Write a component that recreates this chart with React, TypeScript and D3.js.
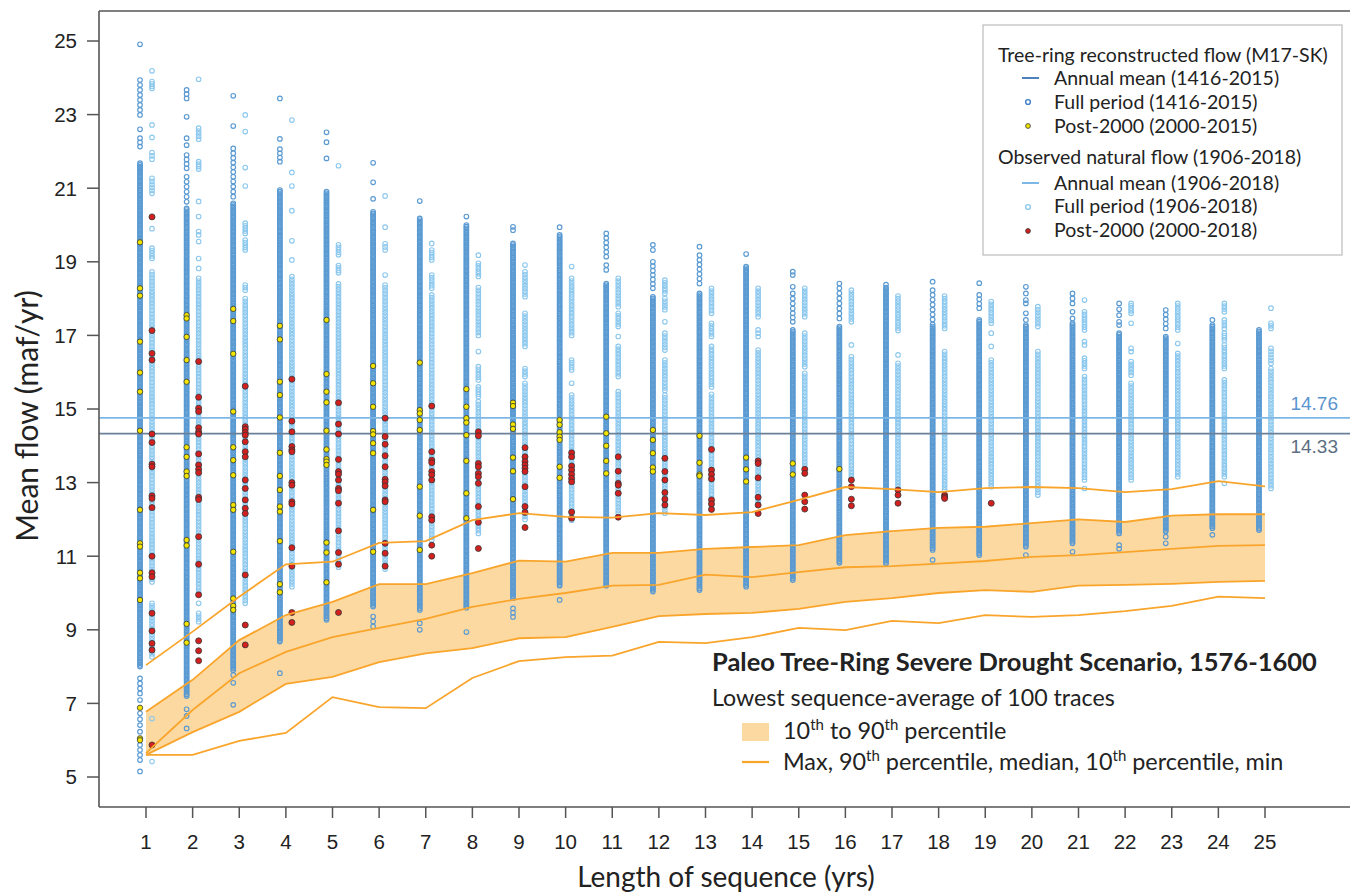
import React, { useEffect } from 'react';
import * as d3 from 'd3';

// ---------- DATA ----------
const lengths = [1, 2, 3, 4, 5, 6, 7, 8, 9, 10, 11, 12, 13, 14, 15, 16, 17, 18, 19, 20, 21, 22, 23, 24, 25];
const yTicks = [5, 7, 9, 11, 13, 15, 17, 19, 21, 23, 25];
const treeMean = 14.33;
const obsMean = 14.76;

// percentile lines of the drought scenario (lowest sequence-average of 100 traces)
const pMax = [8.04, 8.95, 9.9, 10.78, 10.85, 11.36, 11.41, 11.98, 12.17, 12.07, 12.05, 12.17, 12.12, 12.2, 12.53, 12.88, 12.82, 12.74, 12.85, 12.88, 12.85, 12.74, 12.82, 13.04, 12.9];
const p90 = [6.77, 7.64, 8.72, 9.4, 9.76, 10.24, 10.24, 10.54, 10.88, 10.85, 11.09, 11.09, 11.2, 11.25, 11.3, 11.57, 11.68, 11.77, 11.8, 11.9, 12.0, 11.93, 12.1, 12.14, 12.14];
const pMed = [5.65, 6.82, 7.82, 8.4, 8.8, 9.05, 9.3, 9.62, 9.84, 10.0, 10.2, 10.22, 10.5, 10.43, 10.57, 10.7, 10.73, 10.8, 10.87, 10.98, 11.03, 11.11, 11.2, 11.28, 11.3];
const p10 = [5.6, 6.22, 6.77, 7.53, 7.72, 8.12, 8.36, 8.5, 8.77, 8.8, 9.08, 9.37, 9.43, 9.46, 9.57, 9.76, 9.86, 10.0, 10.08, 10.03, 10.2, 10.22, 10.25, 10.3, 10.33];
const pMin = [5.6, 5.6, 5.98, 6.2, 7.17, 6.9, 6.87, 7.69, 8.15, 8.26, 8.3, 8.67, 8.64, 8.8, 9.05, 8.99, 9.24, 9.18, 9.4, 9.35, 9.4, 9.51, 9.65, 9.9, 9.86];

// tree-ring reconstruction: densely packed value ranges [high, low] per sequence length
const treeDense = [
  [21.68, 8.0], [20.45, 7.2], [20.59, 7.9], [20.95, 8.68], [20.91, 9.27], [20.36, 9.63], [20.18, 9.54],
  [20.0, 9.6], [19.5, 9.86], [19.73, 10.2], [18.41, 10.2], [18.05, 10.04], [18.14, 10.08], [18.87, 10.17],
  [17.15, 10.35], [17.24, 10.82], [18.3, 10.8], [17.24, 11.17], [17.42, 11.03], [17.28, 11.26], [17.33, 11.35],
  [17.06, 11.62], [16.97, 11.67], [17.28, 11.76], [17.15, 11.71],
];
// tree-ring reconstruction: sparse values / short runs [high, low]
const treeSparse = [
  [[24.91, 24.91], [23.94, 22.99], [22.6, 22.6], [22.36, 22.13], [7.68, 7.27], [7.09, 7.09], [6.73, 6.41], [6.23, 6.23], [5.87, 5.46], [5.15, 5.15]],
  [[23.67, 23.44], [22.94, 22.94], [22.36, 22.17], [21.9, 21.54], [21.31, 20.63], [6.84, 6.84], [6.66, 6.66], [6.32, 6.32]],
  [[23.51, 23.51], [22.69, 22.69], [22.08, 21.31], [21.18, 20.77], [7.77, 7.77], [7.56, 7.56], [6.96, 6.96]],
  [[23.44, 23.44], [22.34, 22.34], [22.06, 21.72], [7.82, 7.82]],
  [[22.52, 22.52], [22.25, 22.25], [21.81, 21.81]],
  [[21.69, 21.69], [21.16, 21.16], [20.71, 20.71], [9.36, 9.09]],
  [[20.65, 20.65], [9.18, 9.0]],
  [[20.23, 20.23], [8.94, 8.94]],
  [[19.95, 19.86], [9.58, 9.35]],
  [[19.94, 19.94], [9.81, 9.81]],
  [[19.77, 19.14], [18.91, 18.78]],
  [[19.46, 19.32], [19.0, 18.28]],
  [[19.41, 19.41], [19.18, 18.41]],
  [[19.21, 19.21]],
  [[18.73, 18.64], [18.32, 18.14], [18.0, 17.73], [17.6, 17.37]],
  [[18.41, 18.41], [18.28, 17.46]],
  [[18.38, 18.38]],
  [[18.46, 18.46], [18.23, 18.23], [18.1, 17.3], [10.9, 10.9]],
  [[18.42, 18.42], [18.1, 17.74]],
  [[18.32, 18.14], [17.96, 17.87], [17.6, 17.42], [11.03, 11.03]],
  [[18.14, 17.87], [17.64, 17.46], [11.12, 11.12]],
  [[17.87, 17.55], [17.37, 17.28], [11.3, 11.2]],
  [[17.69, 17.19], [11.53, 11.35]],
  [[17.42, 17.42], [11.58, 11.58]],
  [],
];
// observed natural flow: value runs [high, low] per sequence length
const obsRuns = [
  [[24.19, 24.19], [23.9, 23.71], [22.72, 22.72], [22.38, 22.38], [21.97, 21.79], [21.27, 20.86], [19.9, 19.9], [19.37, 19.09], [18.73, 10.3], [9.72, 8.27], [6.59, 6.59], [5.42, 5.42]],
  [[23.96, 23.96], [22.63, 22.33], [21.72, 21.52], [20.64, 20.64], [20.23, 20.23], [19.82, 19.73], [19.55, 19.55], [19.09, 19.09], [18.82, 18.82], [18.55, 10.0], [9.72, 9.72], [9.45, 9.22]],
  [[22.99, 22.99], [22.54, 22.54], [21.56, 21.56], [21.06, 21.06], [20.05, 19.77], [19.59, 19.32], [18.37, 18.23], [18.0, 9.72]],
  [[22.85, 22.85], [21.43, 21.43], [21.06, 21.06], [20.39, 20.39], [19.57, 19.57], [19.05, 19.05], [18.6, 10.17]],
  [[21.61, 21.61], [19.46, 19.19], [18.9, 18.7], [18.4, 10.7]],
  [[20.79, 20.79], [19.94, 19.94], [19.49, 19.32], [18.64, 18.64], [18.37, 10.65]],
  [[19.5, 19.5], [19.32, 19.05], [18.64, 18.28], [18.1, 11.44]],
  [[19.18, 19.18], [18.96, 18.6], [18.3, 17.0], [16.56, 16.56], [16.15, 15.79], [15.6, 15.33], [15.2, 11.62]],
  [[18.91, 18.91], [18.73, 18.05], [17.6, 16.7], [16.1, 15.88], [15.7, 12.0]],
  [[18.87, 18.87], [18.55, 17.0], [16.33, 16.06], [15.7, 15.7], [15.38, 11.98]],
  [[18.55, 17.78], [17.6, 17.24], [16.97, 16.97], [16.7, 15.88], [15.47, 12.17]],
  [[18.5, 18.14], [18.0, 17.7], [17.37, 17.37], [17.06, 16.6], [16.33, 15.5], [15.38, 12.17]],
  [[18.28, 17.6], [17.33, 16.97], [16.7, 15.6], [15.4, 12.3]],
  [[18.28, 17.51], [17.15, 16.97], [16.6, 12.4]],
  [[18.28, 17.51], [17.06, 16.15], [15.97, 13.43]],
  [[18.23, 17.37], [16.74, 16.74], [16.42, 13.16]],
  [[18.07, 17.13], [16.47, 16.47], [16.24, 12.89]],
  [[18.07, 17.19], [16.56, 12.8]],
  [[17.92, 17.33], [17.06, 17.06], [16.7, 16.7], [16.33, 12.89]],
  [[17.78, 17.24], [16.56, 12.66]],
  [[17.96, 17.96], [17.64, 17.15], [16.83, 16.74], [16.38, 16.1], [15.88, 13.07], [12.84, 12.84]],
  [[17.87, 17.6], [17.33, 17.33], [16.65, 16.56], [16.29, 15.92], [15.7, 13.07]],
  [[17.87, 17.15], [16.78, 16.78], [16.51, 13.16]],
  [[17.87, 17.64], [17.42, 17.19], [17.06, 16.87], [16.74, 16.1], [15.79, 13.16], [12.98, 12.98]],
  [[17.74, 17.74], [17.33, 17.19], [16.65, 16.24], [16.1, 12.84]],
];
// post-2000 sequence averages, tree-ring (2000-2015)
const treePost = [
  [19.53, 18.28, 18.08, 16.83, 15.99, 15.47, 14.41, 12.26, 11.35, 11.26, 10.55, 10.4, 9.81, 6.88, 6.05, 6.0],
  [17.55, 17.46, 16.96, 16.33, 15.74, 13.96, 13.7, 13.3, 13.18, 11.44, 11.29, 9.16, 8.65],
  [17.72, 17.39, 16.5, 14.93, 13.96, 13.61, 13.2, 12.39, 12.26, 11.12, 9.85, 9.65, 9.54],
  [17.26, 16.89, 15.74, 15.38, 14.77, 13.81, 13.18, 12.8, 12.35, 12.21, 11.41, 10.24, 10.02],
  [17.42, 15.95, 15.47, 15.18, 14.41, 13.9, 13.64, 13.57, 13.48, 11.37, 11.1, 10.29],
  [16.17, 15.7, 15.06, 14.4, 14.31, 14.07, 13.8, 12.26, 11.12],
  [16.26, 14.97, 14.88, 14.7, 14.43, 12.89, 12.1, 11.17],
  [15.54, 15.06, 14.75, 14.63, 14.29, 13.59, 12.71, 12.03],
  [15.17, 15.08, 14.58, 14.46, 13.68, 13.31, 12.55],
  [14.7, 14.57, 14.37, 14.25, 14.16, 13.43, 13.13],
  [14.79, 14.34, 14.0, 13.59, 13.25],
  [14.43, 14.16, 13.8, 13.41, 13.3],
  [14.27, 13.54, 13.22, 13.18],
  [13.68, 13.36, 13.03],
  [13.52, 13.22],
  [13.37],
  [], [], [], [], [], [], [], [], [],
];
// post-2000 sequence averages, observed (2000-2018)
const obsPost = [
  [20.22, 17.13, 16.51, 16.33, 14.32, 14.09, 13.5, 13.43, 12.64, 12.57, 12.32, 11.0, 10.55, 10.44, 9.45, 8.97, 8.63, 8.45, 5.87],
  [16.29, 15.32, 15.02, 14.93, 14.49, 14.38, 14.32, 13.78, 13.48, 13.36, 13.27, 12.6, 12.54, 11.53, 10.78, 9.95, 8.7, 8.43, 8.16],
  [15.62, 14.52, 14.45, 14.36, 14.29, 14.11, 13.84, 13.7, 13.07, 12.84, 12.53, 12.3, 12.16, 10.49, 9.13, 8.59],
  [15.81, 14.67, 14.38, 13.98, 13.89, 13.84, 13.0, 12.93, 12.48, 12.42, 11.23, 10.73, 9.47, 9.2],
  [15.17, 14.59, 14.32, 13.63, 13.3, 13.23, 13.07, 12.84, 12.78, 12.44, 11.69, 11.1, 10.78, 9.47],
  [14.75, 14.25, 14.04, 13.73, 13.43, 13.09, 13.02, 12.91, 12.53, 12.48, 11.35, 11.08, 10.73],
  [15.08, 13.84, 13.61, 13.54, 13.3, 13.21, 13.07, 12.07, 11.98, 11.3, 11.0],
  [14.38, 14.27, 13.52, 13.43, 13.25, 13.16, 12.98, 12.35, 11.92, 11.21],
  [13.95, 13.7, 13.57, 13.48, 13.39, 13.3, 12.89, 12.35, 12.19, 11.78],
  [13.81, 13.7, 13.45, 13.34, 13.22, 13.11, 13.02, 12.2, 12.03],
  [13.7, 13.31, 12.98, 12.93, 12.71, 12.06],
  [13.66, 13.3, 13.07, 12.73, 12.55, 12.39],
  [13.9, 13.34, 13.22, 13.1, 12.53, 12.42, 12.27],
  [13.59, 13.52, 13.13, 12.6, 12.39, 12.16],
  [13.36, 13.25, 12.66, 12.48, 12.28],
  [13.07, 12.89, 12.55, 12.37],
  [12.8, 12.66, 12.44],
  [12.66, 12.61, 12.57],
  [12.44],
  [], [], [], [], [], [],
];

// ---------- STYLE ----------
const W = 1350, H = 894;
const frame = { left: 99, top: 11, right: 1350, bottom: 807 };
const C = {
  tree: '#5a9ad2', obs: '#8cc8ee', yellow: '#f2e600', red: '#d3201f',
  treeLine: '#6b8099', obsLine: '#7db7e6', orange: '#f9a52c', band: '#fdd9a2', axis: '#555',
};
const titleFont = 'Lato, "Open Sans", sans-serif';
const tickFont = '"Liberation Sans", Arial, sans-serif';

function expand(runs: number[][], step: number): number[] {
  const out: number[] = [];
  for (const [hi, lo] of runs) {
    if (hi - lo < 1e-9) { out.push(hi); continue; }
    const n = Math.max(1, Math.round((hi - lo) / step));
    for (let i = 0; i <= n; i++) out.push(hi - ((hi - lo) * i) / n);
  }
  return out;
}

export default function App() {
  useEffect(() => { document.body.style.margin = '0'; }, []);
  const x = d3.scaleLinear().domain([1, 25]).range([146, 1265]);
  const y = d3.scaleLinear().domain([5, 25]).range([777, 41]);
  const dx = 6;

  const area = d3.area<number>().x((_, i) => x(lengths[i])).y0((_, i) => y(p10[i])).y1((_, i) => y(p90[i]));
  const line = d3.line<number>().x((_, i) => x(lengths[i])).y((v) => y(v));

  const r = 2.3;
  return (
    <div style={{ position: 'absolute', left: 0, top: 0 }}>
      <svg width={W} height={H} style={{ display: 'block', background: '#fff' }}>
        {/* percentile band */}
        <path d={area(p90) || ''} fill={C.band} stroke="none" />

        {/* tree-ring points */}
        {lengths.map((L, i) => {
          const cx = x(L) - dx;
          const vals = [...expand([treeDense[i]], 0.045), ...expand(treeSparse[i], 0.13)];
          return (
            <g key={'t' + L}>
              {vals.map((v, j) => (
                <circle key={j} cx={cx} cy={y(v)} r={r} fill="none" stroke={C.tree} strokeWidth={1.15} />
              ))}
            </g>
          );
        })}
        {/* observed points */}
        {lengths.map((L, i) => {
          const cx = x(L) + dx;
          const vals = expand(obsRuns[i], 0.075);
          return (
            <g key={'o' + L}>
              {vals.map((v, j) => (
                <circle key={j} cx={cx} cy={y(v)} r={r} fill="none" stroke={C.obs} strokeWidth={1.1} />
              ))}
            </g>
          );
        })}

        {/* mean lines */}
        <line x1={frame.left} x2={frame.right} y1={y(obsMean)} y2={y(obsMean)} stroke={C.obsLine} strokeWidth={1.6} />
        <line x1={frame.left} x2={frame.right} y1={y(treeMean)} y2={y(treeMean)} stroke={C.treeLine} strokeWidth={1.8} />
        <text x={1338} y={y(obsMean) - 8} textAnchor="end" fontFamily={tickFont} fontSize={19} fill="#5b95cf">{obsMean.toFixed(2)}</text>
        <text x={1338} y={y(treeMean) + 19} textAnchor="end" fontFamily={tickFont} fontSize={19} fill="#5c6f83">{treeMean.toFixed(2)}</text>

        {/* post-2000 points */}
        {lengths.map((L, i) => (
          <g key={'py' + L}>
            {treePost[i].map((v, j) => (
              <circle key={j} cx={x(L) - dx} cy={y(v)} r={2.7} fill={C.yellow} stroke="#333" strokeWidth={0.8} />
            ))}
            {obsPost[i].map((v, j) => (
              <circle key={'r' + j} cx={x(L) + dx} cy={y(v)} r={3} fill={C.red} stroke="#333" strokeWidth={0.8} />
            ))}
          </g>
        ))}

        {/* percentile lines */}
        {[pMax, p90, pMed, p10, pMin].map((s, k) => (
          <path key={k} d={line(s) || ''} fill="none" stroke={C.orange} strokeWidth={1.8} />
        ))}

        {/* frame and axes */}
        <line x1={frame.left} x2={frame.right} y1={frame.top} y2={frame.top} stroke={C.axis} strokeWidth={1.6} />
        <line x1={frame.left} x2={frame.left} y1={frame.top} y2={frame.bottom} stroke={C.axis} strokeWidth={1.6} />
        <line x1={frame.left} x2={frame.right} y1={frame.bottom} y2={frame.bottom} stroke={C.axis} strokeWidth={1.6} />
        {yTicks.map((t) => (
          <g key={'yt' + t}>
            <line x1={87} x2={frame.left} y1={y(t)} y2={y(t)} stroke={C.axis} strokeWidth={1.5} />
            <text x={77} y={y(t)} dy="0.36em" textAnchor="end" fontFamily={tickFont} fontSize={20.5} fill="#222">{t}</text>
          </g>
        ))}
        {lengths.map((L) => (
          <g key={'xt' + L}>
            <line x1={x(L)} x2={x(L)} y1={frame.bottom} y2={818} stroke={C.axis} strokeWidth={1.5} />
            <text x={x(L)} y={849} textAnchor="middle" fontFamily={tickFont} fontSize={20.5} fill="#222">{L}</text>
          </g>
        ))}
        <text x={726} y={887} textAnchor="middle" fontFamily={titleFont} fontSize={28} fill="#222">Length of sequence (yrs)</text>
        <text transform={`translate(38,416) rotate(-90)`} textAnchor="middle" fontFamily={titleFont} fontSize={30} fill="#222">Mean flow (maf/yr)</text>

        {/* upper legend */}
        <rect x={983} y={25} width={359} height={230} fill="#fff" stroke="#bbb" strokeWidth={1.2} />
        <g fontFamily={titleFont} fontSize={19.5} fill="#222">
          <text x={998} y={62}>Tree-ring reconstructed flow (M17-SK)</text>
          <line x1={1022} x2={1039} y1={78} y2={78} stroke="#4f80c0" strokeWidth={2} />
          <text x={1054} y={85}>Annual mean (1416-2015)</text>
          <circle cx={1028} cy={102} r={2.4} fill="none" stroke="#3f7fc4" strokeWidth={1.4} />
          <text x={1054} y={109}>Full period (1416-2015)</text>
          <circle cx={1028} cy={126} r={2.4} fill={C.yellow} stroke="#333" strokeWidth={0.8} />
          <text x={1054} y={133}>Post-2000 (2000-2015)</text>

          <text x={998} y={164}>Observed natural flow (1906-2018)</text>
          <line x1={1022} x2={1039} y1={183} y2={183} stroke={C.obsLine} strokeWidth={2} />
          <text x={1054} y={190}>Annual mean (1906-2018)</text>
          <circle cx={1028} cy={207} r={2.4} fill="none" stroke={C.obs} strokeWidth={1.4} />
          <text x={1054} y={213}>Full period (1906-2018)</text>
          <circle cx={1028} cy={231} r={2.4} fill={C.red} stroke="#333" strokeWidth={0.8} />
          <text x={1054} y={237}>Post-2000 (2000-2018)</text>
        </g>

        {/* lower legend */}
        <g fontFamily={titleFont} fill="#222">
          <text x={712} y={671} fontSize={25.5} fontWeight="bold">Paleo Tree-Ring Severe Drought Scenario, 1576-1600</text>
          <text x={712} y={706} fontSize={23.2}>Lowest sequence-average of 100 traces</text>
          <rect x={742} y={723} width={27} height={18} fill={C.band} />
          <text x={783} y={739} fontSize={23.4}>
            10<tspan dy={-9} fontSize={15}>th</tspan><tspan dy={9}> to 90</tspan><tspan dy={-9} fontSize={15}>th</tspan><tspan dy={9}> percentile</tspan>
          </text>
          <line x1={742} x2={769} y1={762} y2={762} stroke={C.orange} strokeWidth={2.2} />
          <text x={783} y={770} fontSize={23.4}>
            Max, 90<tspan dy={-9} fontSize={15}>th</tspan><tspan dy={9}> percentile, median, 10</tspan><tspan dy={-9} fontSize={15}>th</tspan><tspan dy={9}> percentile, min</tspan>
          </text>
        </g>
      </svg>
    </div>
  );
}
